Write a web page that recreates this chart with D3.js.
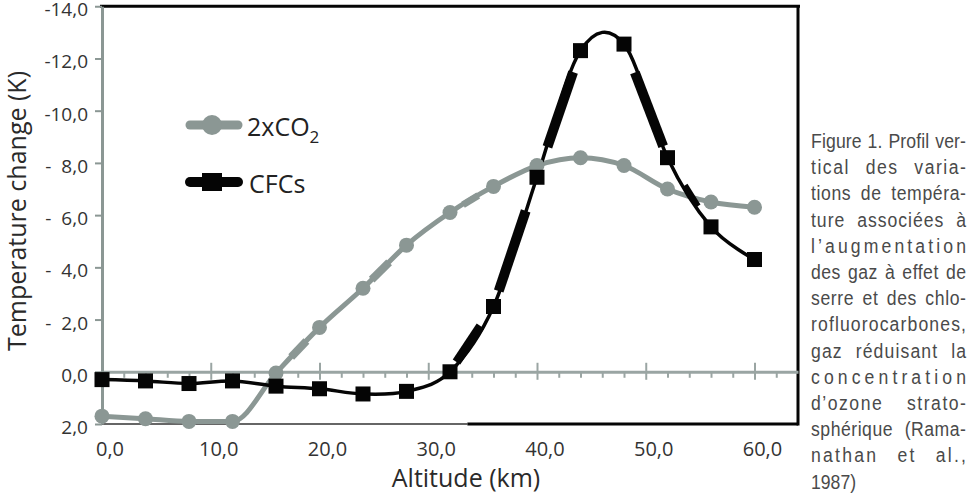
<!DOCTYPE html>
<html>
<head>
<meta charset="utf-8">
<script src="https://cdn.jsdelivr.net/npm/d3@7"></script>
<style>
  body { margin: 0; background: #fff; }
  svg { display: block; }
  .lbl { font-family: "Open Sans", sans-serif; fill: #333; white-space: pre; }
  .caption { font-family: "Liberation Sans", Arial, sans-serif; fill: #4a4a4a; font-size: 21px; }
</style>
</head>
<body>
<svg width="968" height="493"></svg>
<script>
// Data
const altitudes = [0, 4, 8, 12, 16, 20, 24, 28, 32, 36, 40, 44, 48, 52, 56, 60];
const co2Values = [1.7, 1.8, 1.9, 1.9, 0.05, -1.7, -3.2, -4.85, -6.1, -7.1, -7.9, -8.2, -7.9, -7.0, -6.5, -6.3];
const cfcValues = [0.3, 0.35, 0.45, 0.35, 0.55, 0.65, 0.85, 0.75, 0.0, -2.5, -7.45, -12.3, -12.55, -8.2, -5.55, -4.3];
const yTicks = [-14, -12, -10, -8, -6, -4, -2, 0, 2];
const xLabels = [0, 10, 20, 30, 40, 50, 60];
const captionLines = [
  "Figure 1. Profil ver-",
  "tical des varia-",
  "tions de tempéra-",
  "ture associées à",
  "l’augmentation",
  "des gaz à effet de",
  "serre et des chlo-",
  "rofluorocarbones,",
  "gaz réduisant la",
  "concentration",
  "d’ozone strato-",
  "sphérique (Rama-",
  "nathan et al.,",
  "1987)"
];

// Colours
const grey = "#8b9794";
const black = "#050505";

// Scales
const x = d3.scaleLinear().domain([0, 64]).range([102, 798]);
const y = d3.scaleLinear().domain([2, -14]).range([424, 6.25]);

const svg = d3.select("svg");
const fmt = v => Math.abs(v).toFixed(1).replace(".", ",");

// Frame (top and right black, bottom split grey / black)
svg.append("line").attr("x1", x(0) - 2).attr("x2", x(64) + 2).attr("y1", y(-14)).attr("y2", y(-14))
  .attr("stroke", black).attr("stroke-width", 3);
svg.append("line").attr("x1", x(64)).attr("x2", x(64)).attr("y1", y(-14)).attr("y2", y(2) + 1.5)
  .attr("stroke", black).attr("stroke-width", 3);
svg.append("line").attr("x1", x(0)).attr("x2", x(33.6)).attr("y1", y(2)).attr("y2", y(2))
  .attr("stroke", "#666").attr("stroke-width", 2);
svg.append("line").attr("x1", x(33.6)).attr("x2", x(64)).attr("y1", y(2)).attr("y2", y(2))
  .attr("stroke", black).attr("stroke-width", 3);

// Zero axis with major / minor ticks
const xAxis = svg.append("g")
  .attr("transform", `translate(0,${y(0)})`)
  .call(d3.axisBottom(x).tickValues(d3.range(2, 64, 2)).tickFormat("").tickSizeOuter(0));
xAxis.select(".domain").attr("stroke", "#9aa5a3").attr("stroke-width", 3);
xAxis.selectAll(".tick line")
  .attr("stroke", "#9aa5a3").attr("stroke-width", 2)
  .attr("y1", d => d % 10 === 0 ? -9 : 0)
  .attr("y2", d => d % 10 === 0 ? 8 : 6);

// Y axis
const yAxis = svg.append("g")
  .attr("transform", `translate(${x(0)},0)`)
  .call(d3.axisLeft(y).tickValues(yTicks).tickSize(7).tickSizeOuter(0).tickPadding(7)
    .tickFormat(d => d <= -10 ? "-" + fmt(d) : d < 0 ? "-  " + fmt(d) : fmt(d)));
yAxis.select(".domain").attr("stroke", grey).attr("stroke-width", 3);
yAxis.selectAll(".tick line").attr("stroke", grey).attr("stroke-width", 2);
yAxis.selectAll(".tick text").attr("class", "lbl").style("font-size", "19px").attr("dy", "0.5em");

// X tick labels (shifted right of their ticks, as in the figure)
svg.selectAll(".xlbl")
  .data(xLabels)
  .enter()
  .append("text")
  .attr("class", "lbl xlbl")
  .attr("x", d => x(d) + 8)
  .attr("y", 456)
  .attr("text-anchor", "middle")
  .style("font-size", "20px")
  .text(d => fmt(d));

// Axis titles
svg.append("text").attr("class", "lbl")
  .attr("x", 466).attr("y", 487).attr("text-anchor", "middle")
  .style("font-size", "25px").style("fill", "#2a2a2a")
  .text("Altitude (km)");
svg.append("text").attr("class", "lbl")
  .attr("transform", "translate(26,211) rotate(-90)").attr("text-anchor", "middle")
  .style("font-size", "25px").style("fill", "#2a2a2a")
  .text("Temperature change (K)");

// Lines: CO2 without overshoot, CFCs smoothed through the points
const lineCo2 = d3.line()
  .x((d, i) => x(altitudes[i]))
  .y(d => y(d))
  .curve(d3.curveMonotoneX);
const lineCfc = d3.line()
  .x((d, i) => x(altitudes[i]))
  .y(d => y(d))
  .curve(d3.curveCardinal.tension(0));

svg.append("path").datum(co2Values)
  .attr("d", lineCo2).attr("fill", "none").attr("stroke", grey).attr("stroke-width", 5);
svg.append("path").datum(cfcValues)
  .attr("d", lineCfc).attr("fill", "none").attr("stroke", black).attr("stroke-width", 3.5);

// Thicker dash pieces that show on some segments of the printed lines
const heavyBits = [
  { vals: co2Values, seg: 4, t0: 0.35, t1: 0.7, w: 8, c: grey },
  { vals: co2Values, seg: 6, t0: 0.2, t1: 0.6, w: 8, c: grey },
  { vals: co2Values, seg: 8, t0: 0.3, t1: 0.65, w: 7, c: grey },
  { vals: cfcValues, seg: 8, t0: 0.15, t1: 0.7, w: 9, c: black },
  { vals: cfcValues, seg: 9, t0: 0.12, t1: 0.74, w: 10, c: black },
  { vals: cfcValues, seg: 10, t0: 0.24, t1: 0.83, w: 10, c: black },
  { vals: cfcValues, seg: 12, t0: 0.25, t1: 0.9, w: 10, c: black },
  { vals: cfcValues, seg: 13, t0: 0.4, t1: 0.7, w: 6, c: black }
];
const lerp = (a, b, t) => a + (b - a) * t;
svg.selectAll(".heavy")
  .data(heavyBits)
  .enter()
  .append("line")
  .attr("x1", d => lerp(x(altitudes[d.seg]), x(altitudes[d.seg + 1]), d.t0))
  .attr("y1", d => lerp(y(d.vals[d.seg]), y(d.vals[d.seg + 1]), d.t0))
  .attr("x2", d => lerp(x(altitudes[d.seg]), x(altitudes[d.seg + 1]), d.t1))
  .attr("y2", d => lerp(y(d.vals[d.seg]), y(d.vals[d.seg + 1]), d.t1))
  .attr("stroke", d => d.c)
  .attr("stroke-width", d => d.w);

// Markers
svg.selectAll(".co2")
  .data(co2Values)
  .enter()
  .append("circle")
  .attr("cx", (d, i) => x(altitudes[i]))
  .attr("cy", d => y(d))
  .attr("r", 7.5)
  .attr("fill", grey);

svg.selectAll(".cfc")
  .data(cfcValues)
  .enter()
  .append("rect")
  .attr("x", (d, i) => x(altitudes[i]) - 7.5)
  .attr("y", d => y(d) - 7.5)
  .attr("width", 15)
  .attr("height", 15)
  .attr("fill", black);

// Legend
const legend = svg.append("g");
legend.append("line").attr("x1", 190).attr("x2", 238).attr("y1", 125).attr("y2", 125)
  .attr("stroke", grey).attr("stroke-width", 9).attr("stroke-linecap", "round");
legend.append("circle").attr("cx", 212).attr("cy", 125).attr("r", 10).attr("fill", grey);
legend.append("line").attr("x1", 190).attr("x2", 238).attr("y1", 182).attr("y2", 182)
  .attr("stroke", black).attr("stroke-width", 10).attr("stroke-linecap", "round");
legend.append("rect").attr("x", 202).attr("y", 173).attr("width", 20).attr("height", 18).attr("fill", black);

const co2Label = legend.append("text").attr("class", "lbl")
  .attr("x", 247).attr("y", 136).style("font-size", "25px").style("fill", "#222");
co2Label.append("tspan").text("2xCO");
co2Label.append("tspan").attr("dy", 7).style("font-size", "17px").text("2");
legend.append("text").attr("class", "lbl")
  .attr("x", 249).attr("y", 193).style("font-size", "25px").style("fill", "#222")
  .text("CFCs");

// Caption, condensed and justified line by line
const capLeft = 811, capWidth = 155, squeeze = 0.84;
const fullW = capWidth / squeeze;
captionLines.forEach((txt, i) => {
  const t = svg.append("text")
    .attr("class", "caption")
    .attr("transform", `translate(${capLeft},${148 + i * 26.2}) scale(${squeeze},1)`)
    .text(txt);
  if (i === captionLines.length - 1) return;
  const natural = t.node().getComputedTextLength();
  const spaces = (txt.match(/ /g) || []).length;
  const extra = fullW - natural;
  if (spaces > 0 && extra > 0) {
    t.style("word-spacing", (extra * 0.45 / spaces) + "px");
  }
  t.attr("textLength", fullW).attr("lengthAdjust", "spacing");
});
</script>
</body>
</html>
